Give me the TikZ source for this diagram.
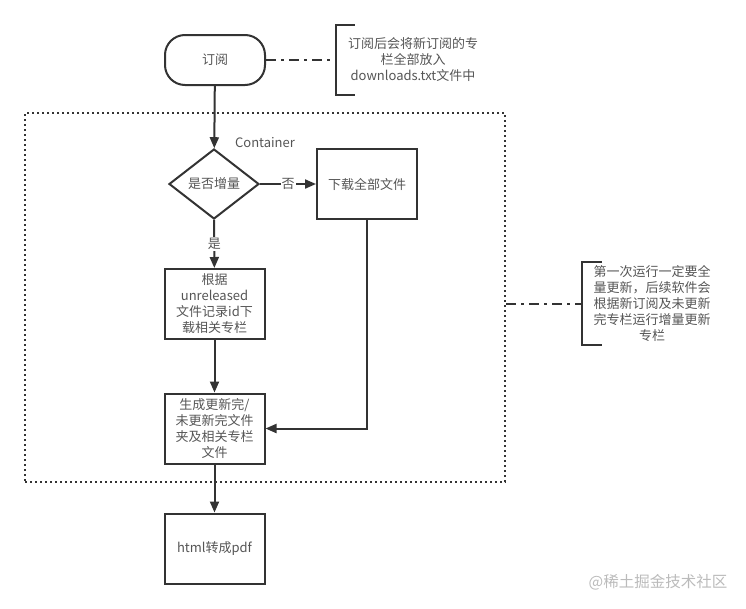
\documentclass[tikz,border=0pt]{standalone}
\usepackage{fontspec}
\setmainfont{Noto Sans CJK SC}
\usetikzlibrary{arrows.meta, shapes.geometric, positioning}

\definecolor{linegray}{HTML}{333333}
\definecolor{textgray}{HTML}{555555}
\definecolor{markgray}{HTML}{BBBBBB}

\begin{document}
\begin{tikzpicture}[x = 1pt, y = -1pt, > = {Triangle[length = 11pt, width = 9pt]},
	every node/.style = {font = \fontsize{13}{16}\selectfont, text = textgray, align = center},
	flowbox/.style = {draw = linegray, line width = 2pt, minimum width = 100pt, minimum height = 70pt, inner sep = 1pt},
	flow/.style = {draw = linegray, line width = 2pt},
	dashdot/.style = {draw = linegray, line width = 2pt, dash pattern = on 10pt off 5pt on 3pt off 5pt},
	bracket/.style = {draw = linegray, line width = 2pt}]

	\useasboundingbox (0, 0) rectangle (746, 608);

	% Container

	\node [draw = linegray, line width = 2pt, dash pattern = on 2pt off 3pt, minimum width = 480pt, minimum height = 369pt] (container) at (265, 297.5) {};
	\node (containerlabel) at (265, 143) {Container};

	% Flow nodes

	\node [flowbox, rounded corners = 20pt, minimum height = 50pt] (subscribe) at (215, 60) {订阅};
	\node [flowbox, diamond, aspect = 1.3, minimum width = 90pt, minimum height = 70pt, inner sep = 0pt] (incremental) at (214, 184) {是否增量};
	\node [flowbox] (downloadall) at (367, 184) {下载全部文件};
	\node [flowbox] (downloadpart) at (214.5, 304) {根据\\unreleased\\文件记录id下\\载相关专栏};
	\node [flowbox] (generate) at (214.5, 428.5) {生成更新完/\\未更新完文件\\夹及相关专栏\\文件};
	\node [flowbox] (topdf) at (214.5, 548.5) {html转成pdf};

	% Connectors

	\draw [flow, ->] (subscribe) -- (incremental);
	\draw [flow, ->] (incremental) -- node [fill = white, inner sep = 1pt] {否} (downloadall);
	\draw [flow, ->] (incremental) -- node [fill = white, inner sep = 1pt, pos = 0.5] {是} (downloadpart);
	\draw [flow, ->] (downloadpart) -- (generate);
	\draw [flow, ->] (downloadall.south) |- (generate.east);
	\draw [flow, ->] (generate) -- (topdf);

	% Notes

	\node [minimum width = 154pt, minimum height = 70pt, text width = 140pt] (subscribenote) at (413, 60) {订阅后会将新订阅的专\\栏全部放入\\downloads.txt文件中};
	\draw [bracket] ([xshift = 19pt] subscribenote.north west) -- (subscribenote.north west) -- (subscribenote.south west) -- ++(19, 0);
	\draw [dashdot] (subscribe.east) -- (subscribenote.west);

	\node [minimum width = 140pt, minimum height = 81pt, text width = 120pt] (updatenote) at (652, 303.5) {第一次运行一定要全\\量更新，后续软件会\\根据新订阅及未更新\\完专栏运行增量更新\\专栏};
	\draw [bracket] ([xshift = 20pt] updatenote.north west) -- (updatenote.north west) -- (updatenote.south west) -- ++(20, 0);
	\draw [dashdot] (container.east |- updatenote.west) -- (updatenote.west);

	% Watermark

	\node [font = \fontsize{15.5}{18}\selectfont, text = markgray] (watermark) at (658, 582) {@稀土掘金技术社区};

\end{tikzpicture}
\end{document}
